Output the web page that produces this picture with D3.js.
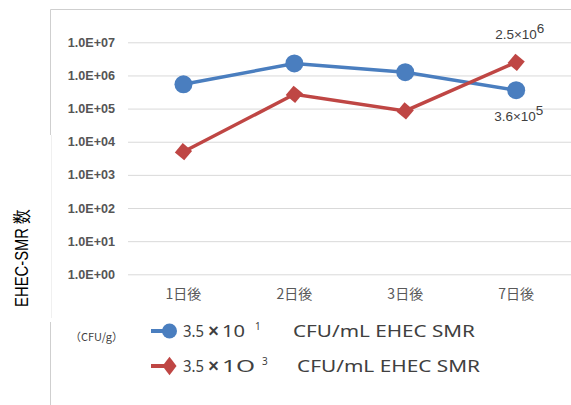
<!DOCTYPE html>
<html>
<head>
<meta charset="utf-8">
<script src="https://cdn.jsdelivr.net/npm/d3@7"></script>
<style>
  html, body { margin: 0; padding: 0; background: #fff; }
  svg { display: block; }
</style>
</head>
<body>
<svg id="chart" width="571" height="405"></svg>
<script>
// Days after inoculation
const categories = ["1日後", "2日後", "3日後", "7日後"];
// EHEC-SMR counts (CFU/g) for the two inoculum levels
const lowDose  = [5.4e5, 2.3e6, 1.25e6, 3.6e5];
const highDose = [5.0e3, 2.7e5, 8.5e4, 2.5e6];
// Log-axis ticks
const yTicks = [1e0, 1e1, 1e2, 1e3, 1e4, 1e5, 1e6, 1e7];
const yTickLabels = ["1.0E+00", "1.0E+01", "1.0E+02", "1.0E+03", "1.0E+04", "1.0E+05", "1.0E+06", "1.0E+07"];

const svg = d3.select("#chart");
const BLUE = "#4A7EBF", RED = "#BF4644";

const x = d3.scaleBand().domain(categories).range([128, 571.6]);
const cx = d => x(d) + x.bandwidth() / 2;
const y = d3.scaleLog().domain([1, 1e7]).range([274.3, 42.3]);

// outer frame pieces
svg.append("line").attr("x1", 50.5).attr("x2", 571).attr("y1", 9.5).attr("y2", 9.5)
  .attr("stroke", "#cfcfcf").attr("stroke-width", 1);
svg.append("line").attr("x1", 50.5).attr("x2", 50.5).attr("y1", 9.5).attr("y2", 135)
  .attr("stroke", "#cfcfcf").attr("stroke-width", 1);
svg.append("line").attr("x1", 51.5).attr("x2", 51.5).attr("y1", 135).attr("y2", 318)
  .attr("stroke", "#f0f0f0").attr("stroke-width", 1);
svg.append("line").attr("x1", 50.5).attr("x2", 50.5).attr("y1", 322).attr("y2", 405)
  .attr("stroke", "#cfcfcf").attr("stroke-width", 1);

// gridlines + y tick labels
const yAxis = d3.axisLeft(y).tickValues(yTicks)
  .tickFormat((d, i) => yTickLabels[i])
  .tickSize(-(571.6 - 128)).tickPadding(13);
const ga = svg.append("g").attr("transform", "translate(128,0)").call(yAxis);
ga.select(".domain").remove();
ga.selectAll(".tick line").attr("stroke", "#d9d9d9").attr("stroke-width", 1);
ga.selectAll(".tick text")
  .attr("fill", "#555").attr("font-family", "'Liberation Sans', Arial, sans-serif")
  .attr("font-size", 12.6).attr("font-weight", "bold");

// x category labels
const xAxis = d3.axisBottom(x).tickSize(0).tickPadding(0);
const gx = svg.append("g").attr("transform", "translate(0,286)").call(xAxis);
gx.select(".domain").remove();
gx.selectAll(".tick text")
  .attr("fill", "#595959").attr("font-family", "'Noto Sans CJK JP', sans-serif")
  .attr("font-size", 14).attr("dy", "0.9em");

// series lines
const line = d3.line().x((d, i) => cx(categories[i])).y(d => y(d));
svg.append("path").datum(lowDose).attr("d", line)
  .attr("fill", "none").attr("stroke", BLUE).attr("stroke-width", 3.5);
svg.append("path").datum(highDose).attr("d", line)
  .attr("fill", "none").attr("stroke", RED).attr("stroke-width", 3.5);

// markers
svg.append("g").selectAll("circle").data(lowDose).join("circle")
  .attr("cx", (d, i) => cx(categories[i])).attr("cy", d => y(d))
  .attr("r", 9).attr("fill", BLUE);
const diamond = d3.symbol().type(d3.symbolSquare).size(150);
svg.append("g").selectAll("path").data(highDose).join("path")
  .attr("d", diamond)
  .attr("transform", (d, i) => `translate(${cx(categories[i])},${y(d)}) rotate(40)`)
  .attr("fill", RED);

// value annotations on the last day
function sciLabel(g, mant, exp) {
  const t = g.append("text").attr("fill", "#404040")
    .attr("font-family", "'Liberation Sans', Arial, sans-serif").attr("font-size", 13.5);
  t.append("tspan").text(mant + "×10");
  t.append("tspan").attr("dy", -6).text(exp);
  return t;
}
const last = categories.length - 1;
sciLabel(svg, "2.5", "6").attr("x", cx(categories[last]) - 21).attr("y", y(highDose[last]) - 23);
sciLabel(svg, "3.6", "5").attr("x", cx(categories[last]) - 22).attr("y", y(lowDose[last]) + 31);

// y axis title (condensed)
svg.append("text")
  .attr("transform", "translate(28,258) rotate(-90) scale(0.78,1)")
  .attr("text-anchor", "middle")
  .attr("font-family", "'Liberation Sans', Arial, sans-serif")
  .attr("font-size", 19).attr("fill", "#000")
  .text("EHEC-SMR 数");

// unit note
svg.append("text").attr("x", 70).attr("y", 341)
  .attr("font-family", "'Noto Sans CJK JP', sans-serif").attr("font-size", 11)
  .attr("fill", "#404040").text("（CFU/g）");

// legend
const legend = [
  {color: BLUE, shape: "circle", mant: "3.5", base: "10", exp: "1", y: 331,
   baseW: 23, expX: 255, restX: 293, restW: 182},
  {color: RED, shape: "diamond", mant: "3.5", base: "1O", exp: "3", y: 366,
   baseW: 33, expX: 262, restX: 297, restW: 183}
];
legend.forEach(l => {
  const g = svg.append("g").attr("transform", `translate(0,${l.y})`);
  g.append("line").attr("x1", 151).attr("x2", 168).attr("y1", 0).attr("y2", 0)
    .attr("stroke", l.color).attr("stroke-width", 4);
  if (l.shape === "circle") {
    g.append("circle").attr("cx", 169.5).attr("cy", 0).attr("r", 7.5).attr("fill", l.color);
  } else {
    g.append("path").attr("d", d3.symbol().type(d3.symbolDiamond).size(110))
      .attr("transform", "translate(169.5,0) scale(1.25,0.95)").attr("fill", l.color);
  }
  const txt = (xPos, s) => g.append("text").attr("x", xPos).attr("y", 6)
    .attr("fill", "#404040").attr("font-family", "'Noto Sans', 'Open Sans', sans-serif")
    .attr("font-size", 17).text(s);
  txt(183, l.mant).attr("textLength", 21).attr("lengthAdjust", "spacingAndGlyphs");
  txt(213.5, "×").attr("text-anchor", "middle").attr("y", 5.5)
    .attr("font-family", "'Liberation Sans', Arial, sans-serif").attr("font-size", 18).attr("font-weight", "bold");
  txt(222, l.base).attr("textLength", l.baseW).attr("lengthAdjust", "spacingAndGlyphs");
  txt(l.expX, l.exp).attr("y", -1).attr("font-size", 10);
  txt(l.restX, "CFU/mL EHEC SMR").attr("textLength", l.restW).attr("lengthAdjust", "spacingAndGlyphs");
});
</script>
</body>
</html>
